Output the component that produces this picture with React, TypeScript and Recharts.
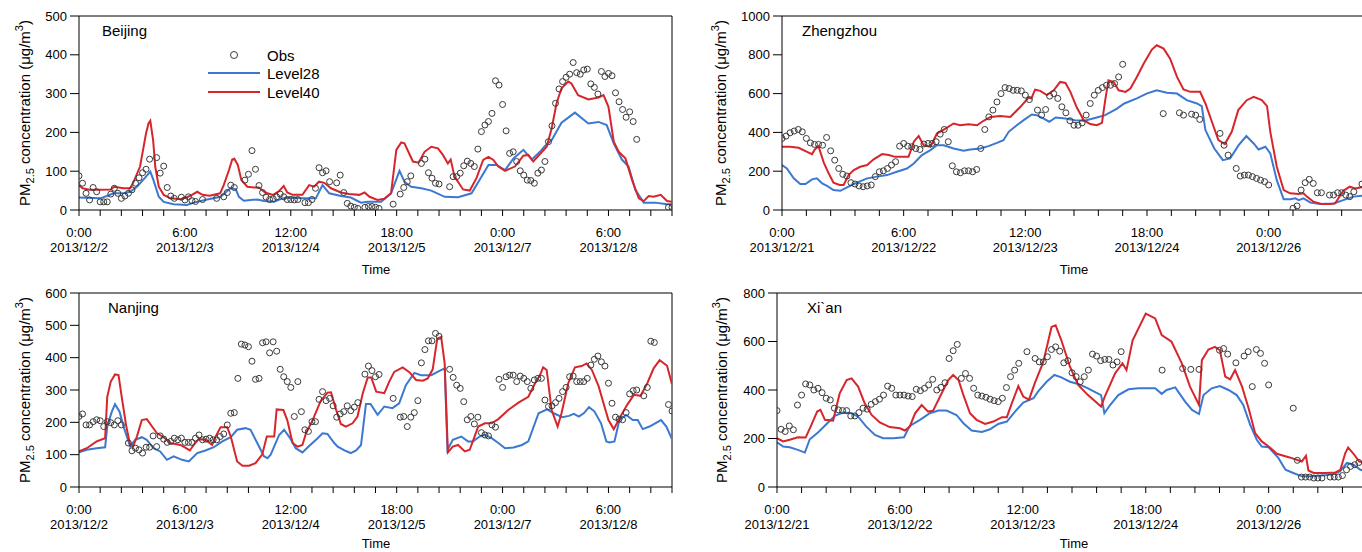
import React from 'react';
import { ComposedChart, Line, Scatter, XAxis, YAxis, ReferenceLine } from 'recharts';

type Pt = [number, number];

const FONT = '"Liberation Sans", Arial, sans-serif';
const BLUE = '#3b78d2';
const RED = '#d7262b';
const OBS = '#3a3a3a';

// x tick labels (every 30 h, minor ticks every 6 h)
const leftTickTimes = ['0:00', '6:00', '12:00', '18:00', '0:00', '6:00'];
const leftTickDates = ['2013/12/2', '2013/12/3', '2013/12/4', '2013/12/5', '2013/12/7', '2013/12/8'];
const rightTickTimes = ['0:00', '6:00', '12:00', '18:00', '0:00'];
const rightTickDates = ['2013/12/21', '2013/12/22', '2013/12/23', '2013/12/24', '2013/12/26'];

// ---- Beijing ----
const beijingL28: Pt[] = [
  [0, 32], [6, 30], [7.9, 36], [9.8, 43], [12.6, 43], [14.5, 47], [16.4, 60], [18.3, 79], [20.2, 99], [21.1, 77],
  [22.6, 34], [24, 21], [26.8, 15], [30.6, 13], [32.5, 19], [36.3, 27], [40.1, 34], [42.9, 56], [44.4, 54], [45.3, 34],
  [46.7, 24], [48.6, 26], [50.5, 27], [52.4, 23], [55.3, 21], [57.6, 30], [60, 32], [62.8, 30], [67.1, 30], [69, 64],
  [70.9, 43], [74.2, 36], [77, 32], [79.9, 19], [81.8, 21], [85.6, 21], [88.4, 43], [90.8, 101], [92.2, 73], [94.1, 60],
  [97, 56], [99.8, 50], [103.6, 34], [107.4, 33], [111.2, 43], [113.6, 79], [116, 116], [118.3, 116], [120.7, 103],
  [123.1, 133], [125.9, 155], [128.3, 130], [130.6, 150], [132, 165], [133.9, 180], [136.7, 225], [140.5, 251],
  [144.3, 223], [147.2, 227], [149.5, 219], [151.5, 172], [153.8, 130], [155.7, 112], [157.6, 52], [160, 19],
  [163.3, 19], [166.6, 15], [168, 15],
];
const beijingL40: Pt[] = [
  [0, 64], [1, 56], [3, 52], [6, 52], [9, 53], [10, 60], [12.6, 56], [14.5, 56], [15.5, 73], [17.3, 112], [19, 198],
  [19.7, 223], [20.2, 230], [21, 180], [21.6, 112], [22.6, 60], [24, 39], [26, 30], [28.7, 28], [30.6, 33], [32, 39],
  [33.5, 47], [35, 39], [37, 37], [40, 43], [41, 64], [42.5, 103], [43.4, 130], [44, 132], [45, 116], [46, 77],
  [47.7, 60], [49.6, 58], [51, 58], [52.4, 47], [53.4, 43], [55, 39], [56.7, 49], [58, 62], [59, 45], [60.5, 39],
  [63.3, 39], [65.2, 64], [66.6, 60], [68, 73], [69.5, 70], [71.4, 56], [74.2, 45], [76.5, 41], [79.4, 39], [80.9, 45],
  [82.3, 34], [84.6, 26], [86.5, 29], [88.4, 43], [89.9, 155], [91.3, 174], [92.2, 172], [94.6, 125], [96.2, 122],
  [97.9, 150], [99.8, 163], [101.7, 159], [103.1, 142], [104.5, 120], [105.3, 130], [106.4, 86], [108.8, 53],
  [110.7, 50], [112.6, 82], [114.5, 129], [116, 137], [117.4, 129], [118.8, 112], [120.7, 101], [123.5, 112],
  [125.9, 140], [127.3, 142], [128.7, 125], [130.6, 144], [132.5, 163], [133.9, 210], [135.3, 275], [136.7, 314],
  [138.6, 331], [139.5, 326], [141.4, 296], [144.3, 285], [147.2, 290], [148.6, 296], [150, 266], [151.5, 176],
  [152.9, 150], [154.8, 133], [156.7, 77], [158.6, 30], [160, 23], [161.4, 36], [162.8, 34], [164.8, 39], [166.6, 23],
  [168, 21],
];
const beijingObs: Pt[] = [
  [0, 88], [1, 69], [2, 43], [3, 26], [4, 58], [5, 47], [6, 21], [7, 21], [8, 21], [9, 41], [10, 56], [11, 43], [12, 30],
  [13, 36], [14, 43], [15, 52], [16, 69], [17, 83], [18, 96], [19, 105], [20, 131], [22, 135], [23, 95], [24, 113],
  [25, 58], [26, 36], [27, 30], [29, 33], [30, 26], [31, 34], [32, 24], [33, 22], [35, 27], [39, 30], [41, 34], [42, 45],
  [43, 64], [44, 58], [47, 77], [48, 92], [49, 153], [50, 105], [51, 63], [52, 45], [53, 33], [54, 27], [55, 29],
  [56, 34], [57, 41], [58, 34], [59, 27], [60, 27], [61, 26], [62, 27], [64, 19], [65, 19], [66, 27], [67, 56], [68, 109],
  [69, 96], [70, 101], [71, 73], [73, 70], [74, 90], [75, 45], [76, 17], [77, 10], [78, 7], [79, 4], [81, 7], [82, 9],
  [83, 9], [84, 7], [85, 4], [89, 15], [91, 41], [92, 58], [93, 73], [94, 88], [97, 120], [98, 131], [99, 96], [100, 82],
  [101, 69], [102, 67], [105, 60], [106, 86], [107, 86], [108, 95], [109, 114], [110, 126], [111, 120], [112, 112],
  [113, 157], [114, 202], [115, 219], [116, 228], [117, 249], [118, 333], [119, 322], [120, 272], [121, 204],
  [122, 146], [123, 150], [124, 125], [125, 101], [126, 90], [127, 77], [128, 76], [129, 69], [130, 95], [131, 103],
  [132, 125], [133, 176], [134, 217], [135, 275], [136, 312], [137, 331], [138, 342], [139, 350], [140, 380],
  [141, 354], [142, 350], [143, 361], [144, 363], [145, 325], [146, 316], [147, 299], [148, 357], [149, 344],
  [150, 352], [151, 346], [152, 302], [153, 279], [154, 259], [155, 239], [156, 253], [157, 228], [158, 182],
  [167, 7], [168, 7],
];

// ---- Nanjing ----
const nanjingL28: Pt[] = [
  [0, 107], [2.2, 115], [5, 120], [7.4, 123], [8, 187], [9.3, 233], [10.2, 256], [11.5, 233], [12.6, 187], [14.5, 125],
  [15.9, 146], [17.8, 154], [19.2, 146], [21.1, 120], [23, 110], [24.9, 84], [26.8, 95], [29.2, 84], [31.1, 79],
  [33.5, 105], [35.8, 113], [38.2, 123], [40.6, 141], [43, 154], [44.8, 177], [47.2, 182], [48.6, 177], [50.5, 136],
  [52.4, 95], [53.4, 89], [54.3, 100], [56.7, 161], [58.1, 177], [60, 148], [61.4, 120], [63.3, 107], [65.2, 127],
  [67.6, 151], [69, 166], [70.4, 164], [72.3, 136], [73.3, 125], [75.2, 113], [77, 105], [78.5, 113], [79.9, 130],
  [81.3, 257], [82.6, 257], [84.6, 223], [86.5, 249], [88.8, 244], [90.7, 259], [92.6, 315], [95, 353], [96.9, 346],
  [99.8, 346], [101.7, 357], [103.6, 367], [104.4, 115], [105.9, 146], [108.3, 156], [110.2, 141], [111.6, 141],
  [113.5, 156], [115, 161], [116.9, 151], [118.8, 136], [120.7, 120], [123.1, 122], [125.5, 130], [127.3, 141],
  [130.2, 228], [132.6, 240], [134.5, 228], [136.9, 216], [138.8, 220], [140.2, 226], [141.6, 218], [143, 228],
  [144.5, 247], [146, 234], [147.9, 197], [149.4, 141], [150.3, 138], [151.7, 141], [153.1, 207], [155, 223],
  [156.9, 207], [158.3, 207], [159.7, 179], [161.6, 187], [164.9, 207], [166.4, 187], [168, 148],
];
const nanjingL40: Pt[] = [
  [0, 110], [2.2, 120], [5, 141], [7.4, 151], [8, 279], [9, 326], [10.2, 348], [11.2, 346], [12.1, 279], [13.4, 187],
  [14.5, 130], [15.3, 125], [16.4, 156], [17.8, 207], [19.2, 210], [20.7, 187], [22.1, 166], [24, 154], [25.9, 136],
  [28.7, 130], [30.1, 122], [31.4, 113], [32.5, 130], [33.9, 148], [35.8, 146], [37.7, 130], [38.7, 156], [40.1, 185],
  [42, 185], [43, 156], [44.8, 79], [46.3, 66], [48.2, 66], [50, 74], [51.9, 100], [53.2, 156], [55.3, 156], [56, 240],
  [57.9, 238], [59, 207], [60.5, 136], [61.9, 125], [63.3, 130], [64.3, 166], [66.2, 207], [68.5, 267], [70.4, 292],
  [71.4, 293], [72.8, 240], [74.2, 195], [75.6, 187], [77.5, 197], [78.9, 218], [80.4, 290], [81.8, 339], [82.8, 339],
  [84.2, 295], [86.5, 290], [87.9, 326], [89.3, 356], [91.7, 370], [93.6, 355], [95.5, 331], [97.4, 329], [98.8, 336],
  [100.2, 364], [101.5, 459], [102.6, 464], [103.6, 382], [104.5, 107], [105.9, 125], [107.4, 130], [109.3, 110],
  [110.7, 115], [113.1, 187], [115, 197], [116.9, 197], [118.8, 210], [121.6, 238], [124.5, 261], [127.3, 279],
  [129.2, 321], [130.6, 346], [131.5, 370], [132.5, 362], [133.9, 238], [135.6, 187], [136.7, 228], [138.6, 321],
  [140.5, 370], [142.4, 374], [143.8, 382], [145.3, 362], [147.2, 312], [148.6, 259], [150, 207], [151.5, 179],
  [153.4, 218], [155.3, 254], [157.2, 285], [159.1, 282], [161, 321], [162.8, 367], [164.5, 392], [166.6, 375],
  [168, 318],
];
const nanjingObs: Pt[] = [
  [0, 218], [1, 226], [2, 192], [3, 192], [4, 202], [5, 208], [6, 205], [7, 187], [8, 202], [9, 199], [10, 192],
  [11, 205], [12, 192], [14, 136], [15, 112], [16, 120], [17, 115], [18, 105], [19, 123], [20, 123], [21, 158],
  [22, 125], [23, 158], [24, 148], [25, 138], [26, 141], [27, 151], [28, 146], [29, 151], [30, 138], [31, 138],
  [32, 138], [33, 151], [34, 161], [35, 146], [36, 148], [37, 151], [38, 146], [39, 146], [40, 156], [41, 164],
  [42, 192], [43, 228], [44, 230], [45, 336], [46, 442], [47, 439], [48, 434], [49, 389], [50, 333], [51, 336],
  [52, 446], [53, 449], [54, 415], [55, 449], [56, 420], [57, 364], [58, 341], [59, 326], [60, 308], [61, 218],
  [62, 326], [63, 233], [64, 177], [65, 172], [66, 202], [67, 202], [68, 271], [69, 295], [70, 267], [71, 274],
  [72, 251], [73, 216], [74, 226], [75, 233], [76, 251], [77, 236], [78, 247], [79, 261], [81, 349], [82, 374],
  [83, 360], [84, 341], [85, 348], [89, 274], [91, 216], [92, 218], [93, 187], [94, 216], [95, 230], [96, 267],
  [97, 384], [98, 425], [99, 452], [100, 452], [101, 475], [102, 466], [105, 364], [106, 339], [107, 315], [108, 305],
  [109, 264], [110, 208], [111, 218], [112, 195], [113, 216], [114, 168], [115, 161], [116, 158], [117, 192],
  [118, 185], [119, 333], [120, 308], [121, 341], [122, 346], [123, 346], [124, 326], [125, 343], [126, 336],
  [127, 326], [128, 305], [129, 331], [130, 336], [131, 336], [132, 269], [133, 249], [134, 251], [135, 261],
  [136, 274], [137, 295], [138, 308], [139, 341], [140, 343], [141, 326], [142, 326], [143, 326], [144, 336],
  [145, 377], [146, 395], [147, 405], [148, 387], [149, 374], [150, 321], [151, 259], [152, 216], [153, 210],
  [154, 208], [155, 230], [156, 288], [157, 298], [158, 300], [160, 282], [161, 308], [162, 451], [163, 447],
  [167, 255], [168, 235],
];

// ---- Zhengzhou ----
const zhengzhouL28: Pt[] = [
  [0, 232], [1.2, 214], [2.9, 163], [4.5, 134], [5.8, 134], [7.4, 158], [8.6, 163], [9.9, 137], [11.1, 124], [12.7, 103],
  [14.4, 99], [16.4, 120], [18.5, 141], [21, 163], [23.4, 172], [25.9, 180], [28.3, 197], [30.8, 214], [32.5, 240],
  [34.5, 283], [36.6, 309], [38.2, 334], [39.9, 334], [42.3, 317], [44.8, 305], [46.4, 312], [48.9, 317], [50.9, 329],
  [53, 346], [54.6, 360], [55.9, 403], [57.9, 437], [59.6, 463], [61.6, 492], [62.8, 489], [64.4, 472], [65.9, 455],
  [67.5, 477], [69.9, 472], [72.2, 463], [74.6, 460], [77.6, 477], [79.7, 489], [82.6, 523], [84.4, 549], [87.5, 575],
  [89.9, 600], [92.4, 617], [94.9, 604], [97.4, 600], [99.8, 566], [102.3, 549], [103.5, 535], [104.4, 412],
  [106.6, 317], [108.7, 257], [110.5, 266], [112.6, 334], [114.5, 381], [116.3, 343], [117.5, 312], [119.2, 326],
  [120.4, 292], [122, 154], [123.7, 55], [125.3, 55], [126.6, 60], [127.4, 51], [128.6, 60], [130.3, 38], [132.7, 31],
  [136, 34], [138.4, 51], [140.9, 69], [144, 75],
];
const zhengzhouL40: Pt[] = [
  [0, 326], [2, 326], [4.1, 321], [6.2, 300], [7.4, 288], [8.1, 312], [9, 329], [10.3, 244], [11.5, 189], [12.7, 141],
  [14.2, 129], [15.2, 129], [16.4, 180], [17.7, 206], [19.3, 223], [21, 232], [22.6, 261], [24.7, 288], [26.3, 283],
  [27.9, 274], [31.2, 274], [32.5, 352], [33.7, 381], [34.9, 334], [36.6, 326], [38.2, 394], [40.3, 420], [42.3, 446],
  [43.9, 437], [46, 442], [48.1, 437], [49.7, 460], [51.4, 480], [53.8, 484], [56.3, 480], [58.8, 532], [60.8, 580],
  [61.5, 575], [62.4, 620], [63.7, 614], [65.3, 592], [67, 617], [68.6, 660], [69.9, 655], [71.1, 609], [72.7, 528],
  [74.4, 463], [76, 443], [77.6, 437], [78.9, 449], [79.7, 566], [80.5, 669], [81.8, 660], [83, 617], [84.7, 609],
  [85.9, 626], [87.5, 686], [89.2, 755], [91.2, 827], [92.4, 849], [94.1, 832], [95.7, 780], [97.4, 686], [99, 621],
  [100.7, 609], [103.1, 609], [104.4, 549], [106, 455], [107.6, 360], [109.2, 340], [110.9, 403], [112.5, 515],
  [114.6, 566], [116.3, 583], [118.3, 566], [119.6, 535], [120.4, 403], [122, 223], [123.7, 103], [125.3, 86],
  [127.4, 82], [128.6, 86], [129.4, 69], [131, 43], [133, 31], [135.2, 31], [136.4, 34], [138.4, 99], [140, 120],
  [141.3, 111], [144, 122],
];
const zhengzhouObs: Pt[] = [
  [0, 369], [1, 381], [2, 398], [3, 407], [4, 415], [5, 403], [6, 369], [7, 346], [8, 338], [9, 338], [10, 334],
  [11, 374], [12, 305], [13, 257], [14, 214], [15, 184], [16, 175], [17, 141], [18, 134], [19, 124], [20, 120],
  [21, 124], [22, 129], [23, 172], [24, 197], [25, 202], [26, 214], [27, 232], [28, 249], [29, 329], [30, 343],
  [31, 329], [32, 326], [33, 317], [34, 312], [35, 340], [36, 343], [37, 343], [38, 352], [39, 391], [40, 415],
  [41, 352], [42, 228], [43, 197], [44, 192], [45, 202], [46, 202], [47, 197], [48, 209], [49, 317], [50, 415],
  [51, 480], [52, 515], [53, 557], [54, 600], [55, 631], [56, 626], [57, 617], [58, 617], [59, 614], [60, 592],
  [61, 569], [63, 515], [64, 489], [65, 518], [66, 587], [67, 600], [68, 575], [69, 532], [70, 501], [71, 460],
  [72, 437], [73, 437], [74, 449], [75, 489], [76, 549], [77, 592], [78, 617], [79, 631], [80, 643], [81, 643],
  [82, 652], [83, 686], [84, 751], [94, 497], [98, 501], [99, 489], [101, 494], [102, 489], [103, 467], [108, 395],
  [109, 334], [110, 283], [112, 214], [113, 175], [114, 180], [115, 180], [116, 172], [117, 163], [118, 154],
  [119, 146], [120, 129], [126, 9], [127, 21], [128, 103], [129, 141], [130, 158], [131, 137], [132, 89], [133, 89],
  [135, 77], [136, 77], [137, 89], [138, 89], [139, 77], [140, 69], [141, 94], [143, 134],
];

// ---- Xi'an ----
const xianL28: Pt[] = [
  [0, 184], [1.5, 167], [3.1, 164], [5.1, 153], [6.8, 142], [8, 197], [10, 225], [12.1, 260], [14.1, 293], [16.1, 307],
  [18.2, 304], [19.8, 290], [21.8, 249], [23.9, 215], [25.9, 201], [28.4, 201], [31, 205], [32.4, 252], [34.9, 277],
  [37.3, 304], [39.4, 315], [41.4, 315], [43.8, 297], [45.5, 263], [47.5, 233], [50, 227], [52, 238], [54, 260],
  [56.1, 270], [58.1, 311], [60.1, 348], [62.6, 366], [63.7, 393], [65.8, 434], [67.7, 462], [69.4, 452], [71.5, 434],
  [73.5, 425], [75.9, 407], [77.9, 389], [79.1, 379], [79.9, 304], [81.3, 338], [83.3, 379], [85.8, 403], [88.2, 407],
  [92.3, 407], [93.9, 384], [95.1, 400], [97.2, 411], [99.6, 352], [101.3, 318], [103, 301], [104.1, 379], [106.1, 407],
  [108.1, 416], [110.2, 400], [112.2, 379], [113.8, 338], [115.5, 256], [117.1, 195], [118.3, 167], [120, 164],
  [122.4, 119], [124.1, 71], [125.7, 60], [128.1, 44], [130.5, 44], [133, 47], [135.4, 51], [137.4, 64], [139.1, 99],
  [140.7, 92], [142.4, 71], [144, 65],
];
const xianL40: Pt[] = [
  [0, 201], [1.5, 188], [3.1, 195], [5.1, 205], [7, 204], [8.4, 256], [9.8, 311], [10.6, 318], [11.7, 277], [13.7, 274],
  [15.3, 386], [17, 441], [18.2, 448], [19.8, 414], [21.4, 345], [23.1, 297], [25.1, 266], [27.5, 247], [30, 242],
  [31.2, 233], [32.4, 249], [33.7, 304], [35.3, 338], [36.9, 311], [38.1, 315], [39.8, 373], [41.8, 441], [43, 462],
  [44.3, 441], [45.5, 379], [47.1, 304], [48.7, 277], [50.8, 260], [52.8, 270], [54.9, 288], [56.1, 288], [57.3, 345],
  [58.9, 416], [60.1, 373], [61.5, 360], [62.9, 427], [65, 516], [67, 660], [68, 667], [69.4, 605], [71.5, 496],
  [73.5, 421], [75.9, 379], [79.1, 332], [80, 373], [82.5, 468], [84.3, 510], [85.3, 482], [86.8, 605], [90, 715],
  [92.3, 695], [93.9, 626], [96.3, 599], [98.8, 510], [100.8, 414], [103, 338], [103.7, 523], [105.3, 567],
  [106.9, 578], [108.1, 564], [109.4, 455], [110.6, 444], [111.8, 482], [113.5, 414], [115.1, 325], [116.7, 222],
  [118.3, 188], [120, 167], [122, 137], [124.9, 123], [128.1, 105], [129.1, 129], [129.7, 68], [131, 58], [133.8, 58],
  [136.3, 60], [137.5, 71], [138.7, 140], [139.4, 163], [140.7, 137], [142.1, 105], [144, 100],
];
const xianObs: Pt[] = [
  [0, 315], [1, 238], [2, 229], [3, 252], [4, 236], [5, 338], [6, 379], [7, 425], [8, 421], [9, 400], [10, 407],
  [11, 389], [12, 366], [13, 359], [14, 325], [15, 318], [16, 315], [17, 315], [18, 293], [19, 293], [20, 307],
  [21, 325], [22, 321], [23, 341], [24, 352], [25, 362], [26, 379], [27, 416], [28, 407], [29, 379], [30, 379],
  [31, 379], [32, 375], [33, 373], [34, 403], [35, 397], [36, 407], [37, 421], [38, 444], [39, 400], [40, 411],
  [41, 430], [42, 530], [43, 562], [44, 588], [45, 448], [46, 468], [47, 448], [48, 407], [49, 379], [50, 375],
  [51, 370], [52, 362], [53, 356], [54, 352], [55, 366], [56, 410], [57, 455], [58, 482], [59, 510], [61, 558],
  [63, 530], [64, 516], [65, 516], [66, 537], [67, 567], [68, 578], [69, 560], [70, 512], [71, 521], [72, 471],
  [73, 455], [74, 434], [75, 455], [76, 482], [77, 548], [78, 540], [79, 521], [80, 526], [81, 526], [82, 503],
  [83, 516], [84, 558], [94, 482], [99, 489], [101, 485], [103, 485], [108, 564], [109, 571], [110, 548], [112, 512],
  [114, 540], [115, 558], [116, 414], [117, 567], [118, 551], [119, 510], [120, 421], [126, 325], [127, 110],
  [128, 41], [129, 41], [130, 41], [131, 37], [132, 37], [133, 37], [135, 41], [136, 41], [137, 41], [138, 47],
  [139, 71], [140, 85], [141, 92], [142, 101],
];

const toRows = (pts: Pt[]) => pts.map(([h, v]) => ({ h, v }));

const sixHourTicks = (max: number) => {
  const t: number[] = [];
  for (let h = 0; h <= max; h += 6) t.push(h);
  return t;
};

const makeTimeTick = (times: string[], dates: string[]) => (props: any) => {
  const { x, y, payload } = props;
  const idx = payload.value / 30;
  if (!Number.isInteger(idx) || idx >= times.length) return <g />;
  return (
    <text x={x} y={y} textAnchor="middle" fill="#000" fontSize={13} fontFamily={FONT}>
      <tspan x={x} dy={19}>{times[idx]}</tspan>
      <tspan x={x} dy={15}>{dates[idx]}</tspan>
    </text>
  );
};

const ObsCircle = (props: any) => {
  if (props.cx == null || props.cy == null) return <g />;
  return <circle cx={props.cx} cy={props.cy} r={3} fill="none" stroke={OBS} strokeWidth={1} />;
};

interface PanelProps {
  left: number;
  top: number;
  width: number;
  height: number;
  margin: { top: number; right: number; bottom: number; left: number };
  xMax: number;
  yMax: number;
  yTicks: number[];
  times: string[];
  dates: string[];
  l28: Pt[];
  l40: Pt[];
  obs: Pt[];
}

const Panel = (p: PanelProps) => (
  <div style={{ position: 'absolute', left: p.left, top: p.top }}>
    <ComposedChart width={p.width} height={p.height} margin={p.margin}>
      <XAxis
        dataKey="h"
        type="number"
        domain={[0, p.xMax]}
        ticks={sixHourTicks(p.xMax)}
        interval={0}
        allowDataOverflow
        tickSize={6}
        tickMargin={2}
        height={60}
        stroke="#000"
        tick={makeTimeTick(p.times, p.dates)}
      />
      <YAxis
        type="number"
        domain={[0, p.yMax]}
        ticks={p.yTicks}
        interval={0}
        allowDataOverflow
        tickSize={9}
        tickMargin={3}
        width={60}
        stroke="#000"
        tick={{ fill: '#000', fontSize: 13, fontFamily: FONT }}
      />
      <ReferenceLine y={p.yMax} stroke="#000" />
      <ReferenceLine x={p.xMax} stroke="#000" />
      <Line data={toRows(p.l28)} dataKey="v" type="linear" stroke={BLUE} strokeWidth={2} dot={false} activeDot={false} isAnimationActive={false} />
      <Line data={toRows(p.l40)} dataKey="v" type="linear" stroke={RED} strokeWidth={2} dot={false} activeDot={false} isAnimationActive={false} />
      <Scatter data={toRows(p.obs)} dataKey="v" shape={ObsCircle} isAnimationActive={false} />
    </ComposedChart>
  </div>
);

const YLabel = ({ x, y }: { x: number; y: number }) => (
  <text transform={`translate(${x},${y}) rotate(-90)`} textAnchor="middle" fontSize={15} fontFamily={FONT} fill="#000">
    PM
    <tspan dy={4} fontSize={11}>2.5</tspan>
    <tspan dy={-4}> concentration (μg/m</tspan>
    <tspan dy={-7} fontSize={11}>3</tspan>
    <tspan dy={7}>)</tspan>
  </text>
);

export default function App() {
  return (
    <div
      style={{
        position: 'absolute',
        left: 0,
        top: 0,
        width: 1362,
        height: 552,
        overflow: 'hidden',
        background: '#fff',
        fontFamily: FONT,
      }}
    >
      <Panel
        left={0} top={0} width={700} height={280}
        margin={{ top: 16, right: 28, bottom: 10, left: 19 }}
        xMax={168} yMax={500} yTicks={[0, 100, 200, 300, 400, 500]}
        times={leftTickTimes} dates={leftTickDates}
        l28={beijingL28} l40={beijingL40} obs={beijingObs}
      />
      <Panel
        left={0} top={280} width={700} height={272}
        margin={{ top: 13, right: 28, bottom: 5, left: 19 }}
        xMax={168} yMax={600} yTicks={[0, 100, 200, 300, 400, 500, 600]}
        times={leftTickTimes} dates={leftTickDates}
        l28={nanjingL28} l40={nanjingL40} obs={nanjingObs}
      />
      <Panel
        left={690} top={0} width={700} height={280}
        margin={{ top: 16, right: 24, bottom: 10, left: 32 }}
        xMax={144} yMax={1000} yTicks={[0, 200, 400, 600, 800, 1000]}
        times={rightTickTimes} dates={rightTickDates}
        l28={zhengzhouL28} l40={zhengzhouL40} obs={zhengzhouObs}
      />
      <Panel
        left={690} top={280} width={700} height={272}
        margin={{ top: 13, right: 23, bottom: 5, left: 27 }}
        xMax={144} yMax={800} yTicks={[0, 200, 400, 600, 800]}
        times={rightTickTimes} dates={rightTickDates}
        l28={xianL28} l40={xianL40} obs={xianObs}
      />

      <svg
        width={1362}
        height={552}
        style={{ position: 'absolute', left: 0, top: 0, pointerEvents: 'none' }}
      >
        <YLabel x={30} y={113} />
        <YLabel x={30} y={390} />
        <YLabel x={726} y={113} />
        <YLabel x={727} y={390} />

        <text x={102} y={36} fontSize={15} fontFamily={FONT}>Beijing</text>
        <text x={108} y={313} fontSize={15} fontFamily={FONT}>Nanjing</text>
        <text x={802} y={36} fontSize={15} fontFamily={FONT}>Zhengzhou</text>
        <text x={807} y={313} fontSize={15} fontFamily={FONT}>Xi`an</text>

        <text x={376} y={274} textAnchor="middle" fontSize={13} fontFamily={FONT}>Time</text>
        <text x={376} y={548} textAnchor="middle" fontSize={13} fontFamily={FONT}>Time</text>
        <text x={1074} y={274} textAnchor="middle" fontSize={13} fontFamily={FONT}>Time</text>
        <text x={1074} y={548} textAnchor="middle" fontSize={13} fontFamily={FONT}>Time</text>

        {/* legend (Beijing panel) */}
        <circle cx={234} cy={55} r={3.5} fill="none" stroke={OBS} strokeWidth={1} />
        <text x={267} y={61} fontSize={15} fontFamily={FONT}>Obs</text>
        <line x1={208} x2={260} y1={73} y2={73} stroke={BLUE} strokeWidth={2} />
        <text x={267} y={79} fontSize={15} fontFamily={FONT}>Level28</text>
        <line x1={208} x2={260} y1={92} y2={92} stroke={RED} strokeWidth={2} />
        <text x={267} y={98} fontSize={15} fontFamily={FONT}>Level40</text>
      </svg>
    </div>
  );
}
